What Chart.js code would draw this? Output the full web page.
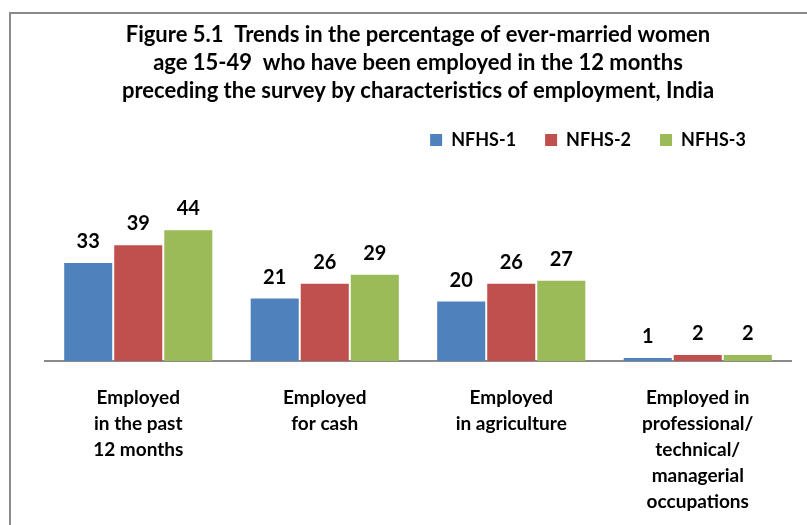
<!DOCTYPE html>
<html>
<head>
<meta charset="utf-8">
<script src="https://cdn.jsdelivr.net/npm/chart.js@4"></script>
<style>
  html, body { margin: 0; padding: 0; background: #fff; }
  #wrap { position: relative; width: 807px; height: 525px; overflow: hidden; }
  #frame { position: absolute; left: 9px; top: 12px; width: 900px; height: 600px;
           border-left: 2px solid #8a8a8a; border-top: 2px solid #8a8a8a; }
  canvas { position: absolute; left: 0; top: 0; }
</style>
</head>
<body>
<div id="wrap">
  <div id="frame"></div>
  <canvas id="myChart" width="807" height="525"></canvas>
</div>
<script>
var categories = [
  ['Employed', 'in the past', '12 months'],
  ['Employed', 'for cash'],
  ['Employed', 'in agriculture'],
  ['Employed in', 'professional/', 'technical/', 'managerial', 'occupations']
];
var seriesNames = ['NFHS-1', 'NFHS-2', 'NFHS-3'];
var nfhs1 = [33, 21, 20, 1];
var nfhs2 = [39, 26, 26, 2];
var nfhs3 = [44, 29, 27, 2];
var colors = ['#4f81bd', '#c0504d', '#9bbb59'];

var fontFamily = 'Lato, "Open Sans", sans-serif';

// values above the bars
var valueLabels = {
  id: 'valueLabels',
  afterDatasetsDraw: function(chart) {
    var ctx = chart.ctx;
    ctx.save();
    ctx.font = 'bold 20px ' + fontFamily;
    ctx.fillStyle = '#000';
    ctx.textAlign = 'center';
    ctx.textBaseline = 'alphabetic';
    chart.data.datasets.forEach(function(ds, i) {
      var meta = chart.getDatasetMeta(i);
      meta.data.forEach(function(bar, j) {
        ctx.fillText(ds.data[j], bar.x, bar.y - 15);
      });
    });
    ctx.restore();
  }
};

// nudge legend left a bit, like the original
var legendShift = {
  id: 'legendShift',
  afterLayout: function(chart) {
    chart.legend.right -= 16;
  }
};

var ctx = document.getElementById('myChart');
var myChart = new Chart(ctx, {
  type: 'bar',
  data: {
    labels: categories,
    datasets: [
      { label: seriesNames[0], data: nfhs1, backgroundColor: colors[0] },
      { label: seriesNames[1], data: nfhs2, backgroundColor: colors[1] },
      { label: seriesNames[2], data: nfhs3, backgroundColor: colors[2] }
    ]
  },
  options: {
    responsive: false,
    animation: false,
    events: [],
    categoryPercentage: 0.805,
    barPercentage: 0.96,
    layout: { padding: { left: 45, right: 16, top: 0, bottom: -14 } },
    plugins: {
      title: {
        display: true,
        text: [
          'Figure 5.1  Trends in the percentage of ever-married women',
          'age 15-49  who have been employed in the 12 months',
          'preceding the survey by characteristics of employment, India'
        ],
        color: '#000',
        font: { family: fontFamily, size: 22, weight: 'bold', lineHeight: '28px' },
        padding: { top: 21, bottom: -3 }
      },
      legend: {
        position: 'top',
        align: 'end',
        labels: {
          color: '#000',
          boxWidth: 12,
          boxHeight: 12,
          padding: 29,
          font: { family: fontFamily, size: 18, weight: 'bold' }
        }
      },
      tooltip: { enabled: false }
    },
    scales: {
      x: {
        grid: { display: false, drawTicks: false },
        border: { display: true, color: '#8a8a8a', width: 2 },
        ticks: {
          color: '#000',
          padding: 24,
          maxRotation: 0,
          autoSkip: false,
          font: { family: fontFamily, size: 19, weight: 'bold', lineHeight: '26px' }
        }
      },
      y: {
        display: false,
        min: 0,
        max: 68
      }
    }
  },
  plugins: [valueLabels, legendShift]
});
</script>
</body>
</html>
